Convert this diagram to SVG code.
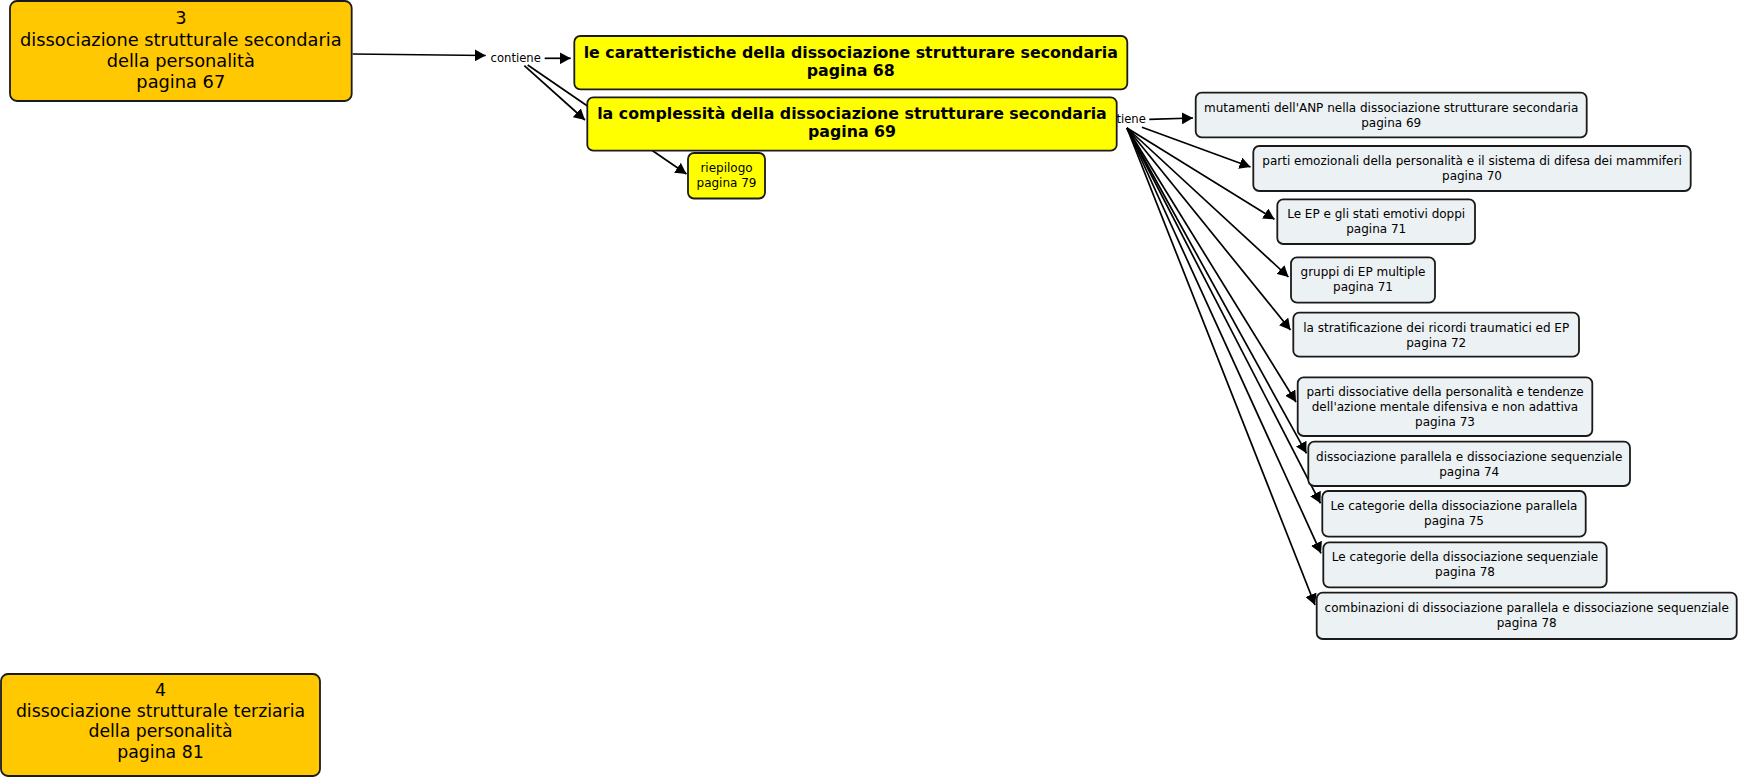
<svg xmlns="http://www.w3.org/2000/svg" width="1739" height="778" viewBox="0 0 1739 778">
<style>
.n rect{stroke:#1a1a1a;stroke-width:1.8}
.gold rect{fill:#ffc800}
.yel rect{fill:#ffff00}
.cy rect{fill:#ecf1f3}
text{font-family:"DejaVu Sans",Verdana,sans-serif;fill:#000;text-anchor:middle}
.big text{font-size:17.8px}
.yel text{font-weight:bold;font-size:15.8px}
.cy text,.sm text{font-size:12px}
.lbl{font-size:11.6px}
.c line{stroke:#000;stroke-width:1.7;fill:none}
</style>
<defs>
<marker id="ah" markerWidth="12" markerHeight="12" refX="11" refY="6" orient="auto" markerUnits="userSpaceOnUse">
<path d="M0,0 L11,6 L0,12 z" fill="#000"/>
</marker>
</defs>
<g id="connectors" class="c">
<line x1="352.7" y1="54" x2="485.7" y2="55.5" marker-end="url(#ah)"/>
<text class="lbl" x="515.7" y="61.7">contiene</text>
<line x1="544.7" y1="58.3" x2="570.7" y2="58.3" marker-end="url(#ah)"/>
<line x1="524.3" y1="65.7" x2="585" y2="120" marker-end="url(#ah)"/>
<line x1="527.7" y1="65" x2="686.5" y2="174" marker-end="url(#ah)"/>
<text class="lbl" x="1120.7" y="123">contiene</text>
<line x1="1149.3" y1="119.3" x2="1193" y2="118" marker-end="url(#ah)"/>
<line x1="1142" y1="127.3" x2="1250.5" y2="167" marker-end="url(#ah)"/>
<line x1="1127" y1="128" x2="1274.5" y2="219.3" marker-end="url(#ah)"/>
<line x1="1127" y1="128" x2="1288.5" y2="277" marker-end="url(#ah)"/>
<line x1="1127" y1="128" x2="1290.5" y2="330" marker-end="url(#ah)"/>
<line x1="1127" y1="128" x2="1296" y2="402" marker-end="url(#ah)"/>
<line x1="1127" y1="128" x2="1306.5" y2="453.3" marker-end="url(#ah)"/>
<line x1="1127" y1="128" x2="1320.5" y2="503.3" marker-end="url(#ah)"/>
<line x1="1127" y1="128" x2="1321" y2="553.3" marker-end="url(#ah)"/>
<line x1="1127" y1="128" x2="1315" y2="605" marker-end="url(#ah)"/>
</g>
<g id="n3" class="n gold big">
<rect x="10" y="1" width="341.7" height="100" rx="7"/>
<text x="180.8" y="24">3</text>
<text x="180.8" y="45.5">dissociazione strutturale secondaria</text>
<text x="180.8" y="66.8">della personalità</text>
<text x="180.8" y="88">pagina 67</text>
</g>
<g id="n4" class="n gold big">
<rect x="1" y="674" width="319" height="102" rx="7"/>
<text x="160.5" y="696" style="font-size:17.3px">4</text>
<text x="160.5" y="716.5" style="font-size:17.3px">dissociazione strutturale terziaria</text>
<text x="160.5" y="737" style="font-size:17.3px">della personalità</text>
<text x="160.5" y="757.5" style="font-size:17.3px">pagina 81</text>
</g>
<g id="caratteristiche" class="n yel">
<rect x="574.3" y="36" width="553" height="53.3" rx="6"/>
<text x="850.8" y="57.7">le caratteristiche della dissociazione strutturare secondaria</text>
<text x="850.8" y="75.7">pagina 68</text>
</g>
<g id="complessita" class="n yel">
<rect x="587.3" y="97.3" width="529.4" height="53.4" rx="6"/>
<text x="852" y="119.3">la complessità della dissociazione strutturare secondaria</text>
<text x="852" y="137.3">pagina 69</text>
</g>
<g id="riepilogo" class="n yel sm">
<rect x="688" y="153" width="77" height="45.5" rx="6"/>
<text x="726.5" y="172" style="font-weight:normal">riepilogo</text>
<text x="726.5" y="187" style="font-weight:normal">pagina 79</text>
</g>
<g id="mutamenti" class="n cy">
<rect x="1195.7" y="92.7" width="391" height="44.6" rx="6"/>
<text x="1391.2" y="111.7">mutamenti dell'ANP nella dissociazione strutturare secondaria</text>
<text x="1391.2" y="126.7">pagina 69</text>
</g>
<g id="emozionali" class="n cy">
<rect x="1253.3" y="146" width="437.4" height="45" rx="6"/>
<text x="1472" y="165">parti emozionali della personalità e il sistema di difesa dei mammiferi</text>
<text x="1472" y="180">pagina 70</text>
</g>
<g id="ep-doppi" class="n cy">
<rect x="1277.3" y="199.3" width="197.7" height="44.7" rx="6"/>
<text x="1376.2" y="218.3">Le EP e gli stati emotivi doppi</text>
<text x="1376.2" y="233.3">pagina 71</text>
</g>
<g id="gruppi" class="n cy">
<rect x="1291" y="257.3" width="144" height="45.4" rx="6"/>
<text x="1363" y="276.3">gruppi di EP multiple</text>
<text x="1363" y="291.3">pagina 71</text>
</g>
<g id="stratificazione" class="n cy">
<rect x="1293.3" y="312.7" width="285.7" height="44" rx="6"/>
<text x="1436.2" y="331.5">la stratificazione dei ricordi traumatici ed EP</text>
<text x="1436.2" y="346.5">pagina 72</text>
</g>
<g id="dissociative" class="n cy">
<rect x="1297.7" y="377.3" width="294.6" height="58.7" rx="6"/>
<text x="1445" y="396">parti dissociative della personalità e tendenze</text>
<text x="1445" y="411">dell'azione mentale difensiva e non adattiva</text>
<text x="1445" y="426">pagina 73</text>
</g>
<g id="parallela-sequenziale" class="n cy">
<rect x="1308.3" y="441.7" width="321.7" height="44.3" rx="6"/>
<text x="1469.2" y="460.5">dissociazione parallela e dissociazione sequenziale</text>
<text x="1469.2" y="475.5">pagina 74</text>
</g>
<g id="cat-parallela" class="n cy">
<rect x="1322.3" y="491" width="263.4" height="45.7" rx="6"/>
<text x="1454" y="510">Le categorie della dissociazione parallela</text>
<text x="1454" y="525">pagina 75</text>
</g>
<g id="cat-sequenziale" class="n cy">
<rect x="1323.3" y="542.3" width="283.4" height="45" rx="6"/>
<text x="1465" y="561.3">Le categorie della dissociazione sequenziale</text>
<text x="1465" y="576.3">pagina 78</text>
</g>
<g id="combinazioni" class="n cy">
<rect x="1316.7" y="592.7" width="420" height="46.3" rx="6"/>
<text x="1526.7" y="612">combinazioni di dissociazione parallela e dissociazione sequenziale</text>
<text x="1526.7" y="627">pagina 78</text>
</g>
</svg>
